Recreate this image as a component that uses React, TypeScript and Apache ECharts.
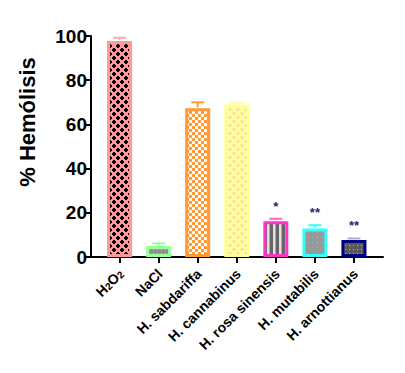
import React, { useEffect, useRef } from "react";
import * as echarts from "echarts";

const categories = ["H2O2", "NaCl", "H. sabdariffa", "H. cannabinus", "H. rosa sinensis", "H. mutabilis", "H. arnottianus"];
const means = [97.7, 5.0, 67.3, 69.0, 16.2, 12.9, 7.7];
const errors = [1.5, 1.2, 2.7, 0.8, 1.1, 1.5, 0.7];
const significance = ["", "", "", "", "*", "**", "**"];
const yTicks = { min: 0, max: 100, interval: 20 };

const borderColors = ["#ff9999", "#99ff99", "#ff9933", "#ffff99", "#ff33cc", "#33ffff", "#000080"];
const errColors = ["#ffaaaa", "#99ff99", "#ff9933", "#ffff99", "#ff66cc", "#33ffff", "#aab0dd"];

const FONT = "'Liberation Sans', Arial, sans-serif";

function tile(w: number, h: number, draw: (c: CanvasRenderingContext2D) => void): string {
  const cv = document.createElement("canvas");
  cv.width = w;
  cv.height = h;
  const c = cv.getContext("2d")!;
  draw(c);
  return cv.toDataURL();
}

function diamond(c: CanvasRenderingContext2D, x: number, y: number) {
  c.fillRect(x + 1, y, 2, 1);
  c.fillRect(x, y + 1, 4, 2);
  c.fillRect(x + 1, y + 3, 2, 1);
}

function makePatterns() {
  const p: string[] = [];
  // H2O2: pink with black diamonds
  p.push(tile(8, 8, (c) => {
    c.fillStyle = "#ff9999"; c.fillRect(0, 0, 8, 8);
    c.fillStyle = "#000";
    diamond(c, 0, 0);
    diamond(c, 4, 4);
  }));
  // NaCl: gray with light dots
  p.push(tile(4, 4, (c) => {
    c.fillStyle = "#8f8f8f"; c.fillRect(0, 0, 4, 4);
    c.fillStyle = "#c8c8c8"; c.fillRect(1, 1, 1, 1);
  }));
  // sabdariffa: orange/white checker
  p.push(tile(6, 6, (c) => {
    c.fillStyle = "#ffffff"; c.fillRect(0, 0, 6, 6);
    c.fillStyle = "#ff9933"; c.fillRect(0, 0, 3, 3); c.fillRect(3, 3, 3, 3);
  }));
  // cannabinus: yellow with pink dots
  p.push(tile(8, 8, (c) => {
    c.fillStyle = "#ffff99"; c.fillRect(0, 0, 8, 8);
    c.fillStyle = "#ffd6b0";
    c.fillRect(1, 0, 2, 3); c.fillRect(0, 1, 4, 1);
    c.fillRect(5, 4, 2, 3); c.fillRect(4, 5, 4, 1);
  }));
  // rosa sinensis: vertical stripes
  p.push(tile(6, 2, (c) => {
    c.fillStyle = "#666666"; c.fillRect(0, 0, 6, 2);
    c.fillStyle = "#e0e0e0"; c.fillRect(3, 0, 2, 2);
    c.fillStyle = "#aaaaaa"; c.fillRect(5, 0, 1, 2);
  }));
  // mutabilis: gray with cyan dots
  p.push(tile(5, 5, (c) => {
    c.fillStyle = "#999999"; c.fillRect(0, 0, 5, 5);
    c.fillStyle = "#66cccc"; c.fillRect(2, 2, 1, 1);
  }));
  // arnottianus: dark gray with light dots
  p.push(tile(4, 4, (c) => {
    c.fillStyle = "#5a5a5a"; c.fillRect(0, 0, 4, 4);
    c.fillStyle = "#b0b0b0"; c.fillRect(1, 1, 1, 1);
  }));
  return p;
}

export default function App() {
  const ref = useRef<HTMLDivElement>(null);
  useEffect(() => {
    if (!ref.current) return;
    const chart = echarts.init(ref.current, null, { renderer: "svg" });
    const pats = makePatterns();
    const sizes = [8, 4, 6, 8, 6, 5, 4];
    const sizesH = [8, 4, 6, 8, 2, 5, 4];
    const barData = means.map((v, i) => ({
      value: v,
      itemStyle: {
        color: { image: pats[i], repeat: "repeat", imageWidth: sizes[i], imageHeight: sizesH[i] } as any,
        borderColor: borderColors[i],
        borderWidth: 3,
      },
    }));
    const top = 36;
    const bottom = 116;
    chart.setOption({
      animation: false,
      grid: [
        { left: 100, right: 31.5, top, bottom },
        { left: 91, right: 22, top, bottom },
      ],
      xAxis: [
        {
          type: "category",
          gridIndex: 0,
          data: categories,
          axisLine: { show: false },
          axisTick: { show: true, alignWithLabel: true, length: 6, lineStyle: { color: "#000", width: 2 } },
          axisLabel: {
            rotate: 45,
            interval: 0,
            margin: 13,
            color: "#000",
            fontWeight: "bold",
            fontSize: 14,
            fontFamily: FONT,
            formatter: (v: string) =>
              v === "H2O2" ? "{n|H}{s|2}{n|O}{s|2}" : `{n|${v}}`,
            rich: {
              n: { fontWeight: "bold", fontSize: 14, fontFamily: FONT, color: "#000", lineHeight: 18, verticalAlign: "bottom" },
              s: { fontWeight: "bold", fontSize: 10, fontFamily: FONT, color: "#000", lineHeight: 10, verticalAlign: "bottom" },
            },
          },
        },
        {
          type: "value",
          gridIndex: 1,
          min: 0,
          max: 1,
          axisLine: { show: true, lineStyle: { color: "#000", width: 2 } },
          axisTick: { show: false },
          axisLabel: { show: false },
          splitLine: { show: false },
        },
      ],
      yAxis: [
        {
          type: "value",
          gridIndex: 0,
          min: yTicks.min,
          max: yTicks.max,
          interval: yTicks.interval,
          show: false,
        },
        {
          type: "value",
          gridIndex: 1,
          min: yTicks.min,
          max: yTicks.max,
          interval: yTicks.interval,
          axisLine: { show: true, lineStyle: { color: "#000", width: 2 } },
          axisTick: { show: true, length: 6, lineStyle: { color: "#000", width: 2 } },
          axisLabel: { color: "#000", fontWeight: "bold", fontSize: 19, fontFamily: FONT, margin: 4 },
          splitLine: { show: false },
        },
      ],
      graphic: [
        {
          type: "text",
          x: 27,
          y: 122,
          rotation: Math.PI / 2,
          style: {
            text: "% Hemólisis",
            fill: "#000",
            font: `bold 22px ${FONT}`,
            align: "center",
            verticalAlign: "middle",
          },
        },
      ],
      series: [
        {
          type: "bar",
          xAxisIndex: 0,
          yAxisIndex: 0,
          data: barData,
          barWidth: 25,
        },
        {
          type: "custom",
          xAxisIndex: 0,
          yAxisIndex: 0,
          data: means.map((m, i) => [i, m, errors[i]]),
          z: 3,
          renderItem: (params: any, api: any) => {
            const i = api.value(0);
            const m = api.value(1);
            const e = api.value(2);
            const base = api.coord([i, m]);
            const tp = api.coord([i, m + e]);
            const col = errColors[i];
            const children: any[] = [
              { type: "line", shape: { x1: base[0], y1: base[1] - 1, x2: base[0], y2: tp[1] }, style: { stroke: col, lineWidth: 2 } },
              { type: "line", shape: { x1: base[0] - 6.5, y1: tp[1], x2: base[0] + 6.5, y2: tp[1] }, style: { stroke: col, lineWidth: 2 } },
            ];
            if (significance[i]) {
              children.push({
                type: "text",
                x: base[0],
                y: tp[1] - 6,
                style: {
                  text: significance[i],
                  fill: "#2a2a6a",
                  font: `bold 13px ${FONT}`,
                  align: "center",
                  verticalAlign: "bottom",
                },
              });
            }
            return { type: "group", children };
          },
        },
      ],
    });
    return () => chart.dispose();
  }, []);
  return <div ref={ref} style={{ width: 405, height: 373, margin: -8 }} />;
}
